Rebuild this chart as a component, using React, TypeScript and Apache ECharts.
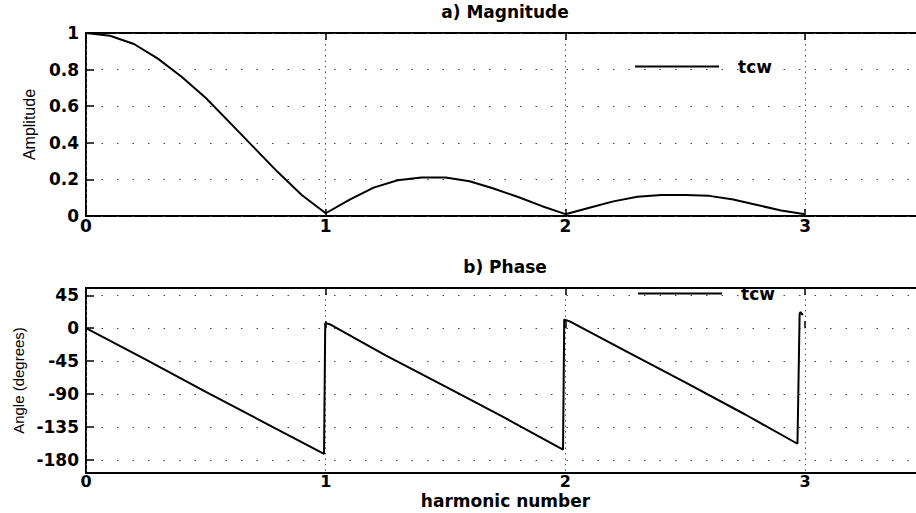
import React, { useEffect, useRef } from "react";
import * as echarts from "echarts";

// Harmonic axis (shared by both panels)
const xTickValues = [0, 1, 2, 3];

// a) Magnitude: harmonic number vs amplitude
const harmonic = [
  0, 0.1, 0.2, 0.3, 0.4, 0.5, 0.6, 0.7, 0.8, 0.9,
  1.0, 1.1, 1.2, 1.3, 1.4, 1.5, 1.6, 1.7, 1.8, 1.9,
  2.0, 2.1, 2.2, 2.3, 2.4, 2.5, 2.6, 2.7, 2.8, 2.9, 3.0,
];
const amplitude = [
  1.0, 0.985, 0.94, 0.86, 0.76, 0.645, 0.51, 0.375, 0.24, 0.115,
  0.015, 0.09, 0.155, 0.195, 0.21, 0.21, 0.19, 0.15, 0.105, 0.055,
  0.01, 0.045, 0.08, 0.105, 0.115, 0.115, 0.11, 0.09, 0.06, 0.03, 0.01,
];
const amplitudeTicks = [0, 0.2, 0.4, 0.6, 0.8, 1];

// b) Phase: harmonic number vs angle in degrees
const phaseHarmonic = [
  0, 0.25, 0.5, 0.75, 0.993,
  0.998, 1.02, 1.25, 1.5, 1.75, 1.99,
  1.995, 2.02, 2.25, 2.5, 2.75, 2.968,
  2.977, 2.981, 2.99,
];
const phaseDegrees = [
  0, -43, -87, -130, -172,
  7, 5, -37, -80, -123, -166,
  12, 9, -31, -74, -118, -158,
  20, 22, 18,
];
const angleTicks = [-180, -135, -90, -45, 0, 45];

const seriesName = "tcw";

const LABEL_FONT = "'DejaVu Sans', sans-serif";
const NAME_FONT = "'Liberation Sans', Arial, sans-serif";

const dottedH = { color: "#444", width: 1, type: [1.5, 14] as number[] };
const dottedV = { color: "#555", width: 1, type: [1.5, 4] as number[] };

const boldText = {
  color: "#000",
  fontFamily: LABEL_FONT,
  fontWeight: "bold" as const,
  fontSize: 17,
};

function makeXAxes(gridIndex: number, withName: boolean) {
  const base = {
    type: "value" as const,
    gridIndex,
    min: 0,
    max: 3.5,
    interval: 1,
    axisLine: { show: false },
  };
  return [
    {
      ...base,
      position: "bottom",
      axisTick: { show: true, inside: true, length: 7, lineStyle: { color: "#000", width: 1.5 } },
      axisLabel: {
        show: true,
        margin: withName ? 1 : 3,
        showMaxLabel: false,
        ...boldText,
        fontSize: withName ? 16 : 17,
        lineHeight: 14,
        formatter: (v: number) => (xTickValues.includes(v) ? String(v) : ""),
      },
      splitLine: { show: true, lineStyle: dottedV },
      name: withName ? "harmonic number" : "",
      nameLocation: "middle",
      nameGap: 20,
      nameTextStyle: {
        ...boldText,
        lineHeight: 16,
        verticalAlign: "top",
      },
    },
    {
      ...base,
      position: "top",
      axisTick: { show: true, inside: true, length: 7, lineStyle: { color: "#000", width: 1.5 } },
      axisLabel: { show: false },
      splitLine: { show: false },
    },
  ];
}

function makeLegend(left: number, top: number) {
  return {
    data: [seriesName],
    left,
    top,
    padding: 0,
    icon: "rect",
    itemWidth: 84,
    itemHeight: 2,
    selectedMode: false,
    itemStyle: { color: "#000" },
    textStyle: { ...boldText, padding: [0, 0, 0, 14] },
  };
}

export default function App() {
  const ref = useRef<HTMLDivElement>(null);

  useEffect(() => {
    if (!ref.current) return;
    const chart = echarts.init(ref.current, null, { renderer: "svg" });

    const option: any = {
      animation: false,
      backgroundColor: "#fff",
      title: [
        {
          text: "a) Magnitude",
          left: 505,
          top: 3,
          textAlign: "center",
          padding: 0,
          textStyle: boldText,
        },
        {
          text: "b) Phase",
          left: 505,
          top: 258,
          textAlign: "center",
          padding: 0,
          textStyle: boldText,
        },
      ],
      legend: [makeLegend(635, 58), makeLegend(638, 285)],
      grid: [
        {
          left: 86,
          top: 33,
          width: 839,
          height: 183,
          show: true,
          borderColor: "#000",
          borderWidth: 2,
          backgroundColor: "transparent",
          outerBoundsMode: "none",
        },
        {
          left: 86,
          top: 288,
          width: 839,
          height: 185,
          show: true,
          borderColor: "#000",
          borderWidth: 2,
          backgroundColor: "transparent",
          outerBoundsMode: "none",
        },
      ],
      xAxis: [...makeXAxes(0, false), ...makeXAxes(1, true)],
      yAxis: [
        {
          type: "value",
          gridIndex: 0,
          min: 0,
          max: 1,
          interval: 0.2,
          axisLine: { show: false },
          axisTick: { show: true, inside: true, length: 8, lineStyle: { color: "#000", width: 1.5 } },
          axisLabel: {
            margin: 7,
            ...boldText,
            formatter: (v: number) =>
              amplitudeTicks.some((t) => Math.abs(t - v) < 1e-9) ? String(Math.round(v * 10) / 10) : "",
          },
          splitLine: { show: true, lineStyle: dottedH },
          name: "Amplitude",
          nameLocation: "middle",
          nameGap: 43,
          nameTextStyle: { color: "#000", fontFamily: NAME_FONT, fontSize: 16 },
        },
        {
          type: "value",
          gridIndex: 1,
          min: -198,
          max: 55,
          axisLine: { show: false },
          axisTick: {
            show: true,
            inside: true,
            length: 8,
            customValues: angleTicks,
            lineStyle: { color: "#000", width: 1.5 },
          },
          axisLabel: {
            margin: 7,
            ...boldText,
            customValues: angleTicks,
          },
          splitLine: { show: true, lineStyle: dottedH },
          name: "Angle (degrees)",
          nameLocation: "middle",
          nameGap: 53,
          nameTextStyle: { color: "#000", fontFamily: NAME_FONT, fontSize: 15 },
        },
      ],
      series: [
        {
          name: seriesName,
          type: "line",
          xAxisIndex: 0,
          yAxisIndex: 0,
          data: harmonic.map((h, i) => [h, amplitude[i]]),
          symbol: "none",
          showSymbol: false,
          lineStyle: { color: "#000", width: 2 },
          itemStyle: { color: "#000" },
          z: 5,
        },
        {
          name: seriesName,
          type: "line",
          xAxisIndex: 2,
          yAxisIndex: 1,
          data: phaseHarmonic.map((h, i) => [h, phaseDegrees[i]]),
          symbol: "none",
          showSymbol: false,
          lineStyle: { color: "#000", width: 2 },
          itemStyle: { color: "#000" },
          z: 5,
        },
      ],
    };

    chart.setOption(option);
    return () => chart.dispose();
  }, []);

  return (
    <div
      ref={ref}
      style={{
        position: "fixed",
        left: 0,
        top: 0,
        width: 916,
        height: 513,
        background: "#fff",
      }}
    />
  );
}
